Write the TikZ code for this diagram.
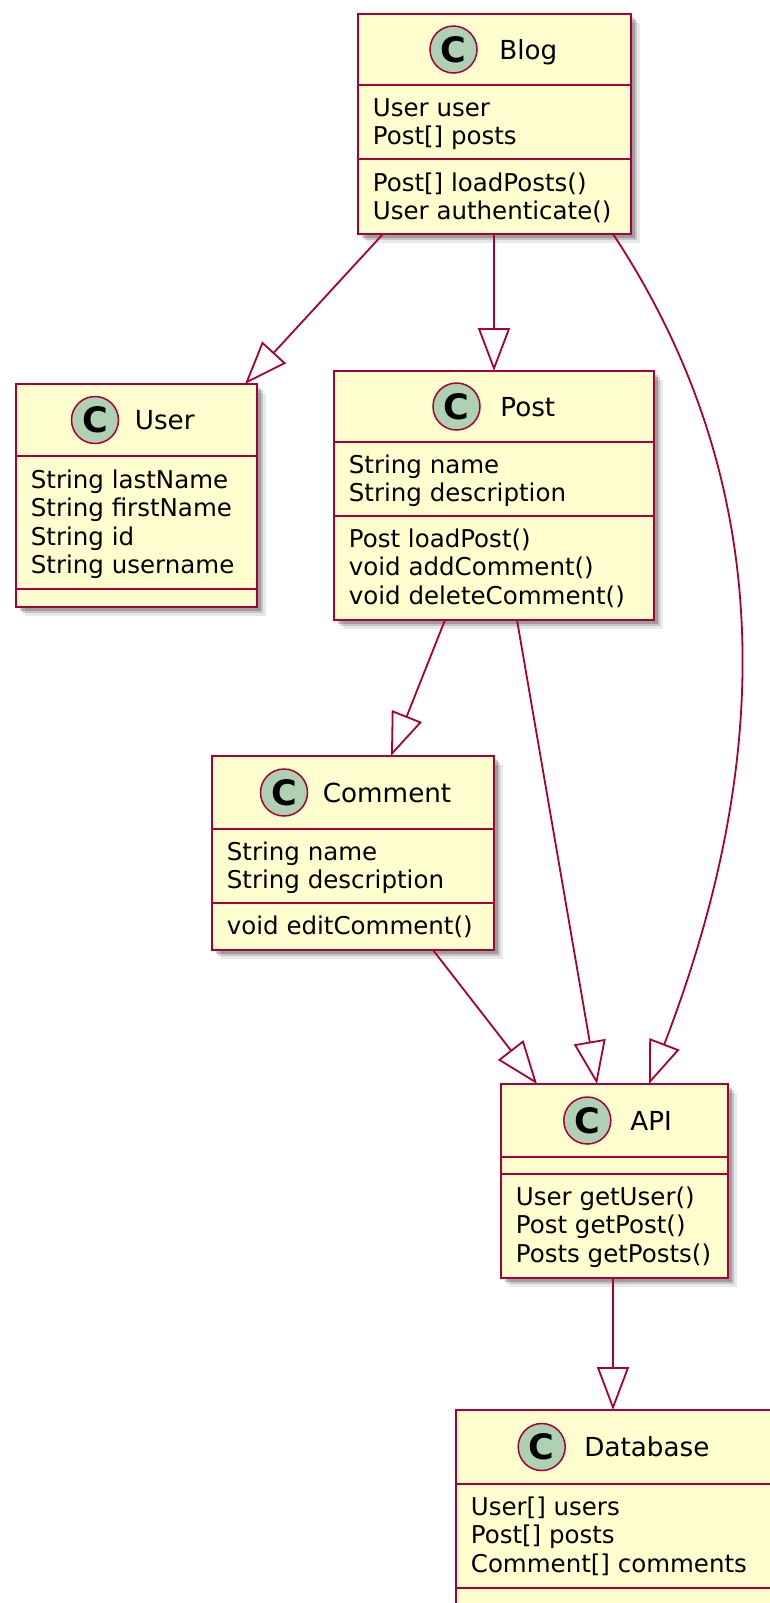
\documentclass[tikz,border=0pt]{standalone}
\usepackage{fontspec}
\setmainfont{DejaVu Sans}
\usetikzlibrary{arrows.meta,calc,shadows}
\definecolor{umlborder}{HTML}{A80036}
\definecolor{umlfill}{HTML}{FEFECE}
\definecolor{umlcirc}{HTML}{ADD1B2}
\begin{document}
\begin{tikzpicture}[x=0.5pt,y=-0.5pt,
  classbox/.style={draw=umlborder, fill=umlfill, line width=1.3pt, inner sep=0pt, outer sep=0pt, rectangle,
     drop shadow={shadow xshift=2pt,shadow yshift=-2pt,opacity=0.2,fill=black},
     drop shadow={shadow xshift=3.2pt,shadow yshift=-3.2pt,opacity=0.15,fill=black},
     drop shadow={shadow xshift=4.4pt,shadow yshift=-4.4pt,opacity=0.09,fill=black}},
  sepline/.style={draw=umlborder, line width=1.1pt},
  conn/.style={draw=umlborder, line width=0.9pt, -{Triangle[length=21.5pt,width=16pt,fill=white]}},
  member/.style={anchor=base west, inner sep=0pt, font=\fontsize{12.25pt}{14pt}\selectfont, text=black},
  cname/.style={anchor=base west, inner sep=0pt, font=\fontsize{13.1pt}{15pt}\selectfont, text=black},
  cicon/.style={circle, draw=umlborder, fill=umlcirc, line width=0.75pt, minimum size=23.5pt, inner sep=0pt,
     font=\fontsize{17.5pt}{18pt}\selectfont\bfseries, text=black}]
\useasboundingbox (0,0) rectangle (770,1603);
\clip (0,0) rectangle (770,1603);
\fill[white] (0,0) rectangle (770,1603);

% class boxes
\node[classbox, minimum width=136.5pt, minimum height=110pt] (blog) at (494.5,124) {};
\node[classbox, minimum width=120.5pt, minimum height=111.5pt] (user) at (136.5,495.5) {};
\node[classbox, minimum width=160pt, minimum height=124.5pt] (post) at (494,495.5) {};
\node[classbox, minimum width=141pt, minimum height=97pt] (comment) at (353,853) {};
\node[classbox, minimum width=113.5pt, minimum height=97pt] (api) at (614.5,1181) {};
\node[classbox, minimum width=160pt, minimum height=101pt] (db) at (616,1511) {};

% compartment separators
\draw[sepline] ($(blog.north west)+(0,71)$) -- ($(blog.north east)+(0,71)$);
\draw[sepline] ($(blog.north west)+(0,145)$) -- ($(blog.north east)+(0,145)$);
\draw[sepline] ($(user.north west)+(0,72)$) -- ($(user.north east)+(0,72)$);
\draw[sepline] ($(user.north west)+(0,205)$) -- ($(user.north east)+(0,205)$);
\draw[sepline] ($(post.north west)+(0,71)$) -- ($(post.north east)+(0,71)$);
\draw[sepline] ($(post.north west)+(0,145)$) -- ($(post.north east)+(0,145)$);
\draw[sepline] ($(comment.north west)+(0,73)$) -- ($(comment.north east)+(0,73)$);
\draw[sepline] ($(comment.north west)+(0,147)$) -- ($(comment.north east)+(0,147)$);
\draw[sepline] ($(api.north west)+(0,73)$) -- ($(api.north east)+(0,73)$);
\draw[sepline] ($(api.north west)+(0,90)$) -- ($(api.north east)+(0,90)$);
\draw[sepline] ($(db.north west)+(0,74)$) -- ($(db.north east)+(0,74)$);
\draw[sepline] ($(db.north west)+(0,178)$) -- ($(db.north east)+(0,178)$);

% headers
\node[cicon] (blogc) at (453.5,49.5) {C};
\node[cname] (blogn) at (499,59) {Blog};
\node[cicon] (userc) at (95,420) {C};
\node[cname] (usern) at (134.5,429.5) {User};
\node[cicon] (postc) at (456.5,406.5) {C};
\node[cname] (postn) at (500,416) {Post};
\node[cicon] (commentc) at (284,792.5) {C};
\node[cname] (commentn) at (322.5,802) {Comment};
\node[cicon] (apic) at (587.3,1120.5) {C};
\node[cname] (apin) at (630,1130) {API};
\node[cicon] (dbc) at (541.7,1447) {C};
\node[cname] (dbn) at (584,1456.5) {Database};

% members
\node[member] (blog1) at (372.5,116) {User user};
\node[member] (blog2) at (372.5,144.5) {Post[] posts};
\node[member] (blog3) at (372.5,191) {Post[] loadPosts()};
\node[member] (blog4) at (372.5,219.5) {User authenticate()};

\node[member] (user1) at (30.5,488.5) {String lastName};
\node[member] (user2) at (30.5,516.9) {String firstName};
\node[member] (user3) at (30.5,545.3) {String id};
\node[member] (user4) at (30.5,573.7) {String username};

\node[member] (post1) at (348.5,473.5) {String name};
\node[member] (post2) at (348.5,501.9) {String description};
\node[member] (post3) at (348.5,547.5) {Post loadPost()};
\node[member] (post4) at (348.5,575.9) {void addComment()};
\node[member] (post5) at (348.5,604.3) {void deleteComment()};

\node[member] (comment1) at (226.5,860.5) {String name};
\node[member] (comment2) at (226.5,888.9) {String description};
\node[member] (comment3) at (226.5,934.5) {void editComment()};

\node[member] (api1) at (515.5,1205.5) {User getUser()};
\node[member] (api2) at (515.5,1233.9) {Post getPost()};
\node[member] (api3) at (515.5,1262.3) {Posts getPosts()};

\node[member] (db1) at (470.5,1515.5) {User[] users};
\node[member] (db2) at (470.5,1543.9) {Post[] posts};
\node[member] (db3) at (470.5,1572.3) {Comment[] comments};

% connectors (generalization)
\draw[conn] ($(blog.south west)+(25,0)$) -- ($(user.north west)+(229,0)$);
\draw[conn] ($(blog.south west)+(136,0)$) -- ($(post.north west)+(160,0)$);
\draw[conn] ($(blog.south west)+(255,0)$) .. controls (792,505) and (762,790) .. ($(api.north west)+(148,0)$);
\draw[conn] ($(post.south west)+(111,0)$) -- ($(comment.north west)+(179,0)$);
\draw[conn] ($(post.south west)+(183,0)$) -- ($(api.north west)+(96,0)$);
\draw[conn] ($(comment.south west)+(221,0)$) -- ($(api.north west)+(36,0)$);
\draw[conn] ($(api.south west)+(112,0)$) -- ($(db.north west)+(157,0)$);
\end{tikzpicture}
\end{document}
